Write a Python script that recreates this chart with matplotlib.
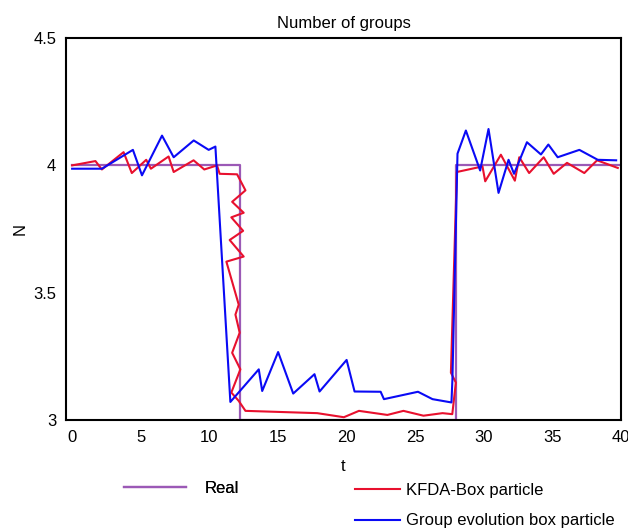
import matplotlib
matplotlib.use("Agg")
import matplotlib.pyplot as plt

plt.rcParams['font.family'] = ['Liberation Sans', 'DejaVu Sans']

# Real number of groups
t_real = [0, 12.2, 12.2, 28.0, 28.0, 40]
n_real = [4, 4, 3, 3, 4, 4]

# KFDA-Box particle
t_kfda = [0, 1.7, 2.17, 3.75, 4.35, 5.4, 5.74, 7.03, 7.4, 8.85, 9.63, 10.56, 10.75,
          12.02, 12.63, 11.66, 12.5, 11.6, 12.46, 11.48, 12.5, 11.24, 12.14, 11.9,
          12.21, 11.66, 12.26, 11.6, 12.14, 12.63, 17.86, 19.8, 20.9, 22.97, 24.14,
          25.6, 26.99, 27.7, 27.96, 27.6, 28.03, 29.9, 30.1, 31.24, 32.26, 32.58,
          33.3, 34.36, 35.09, 36.06, 37.32, 38.25, 39.76]
n_kfda = [4.0, 4.017, 3.984, 4.052, 3.97, 4.022, 3.987, 4.035, 3.974, 4.02, 3.984, 4.0, 3.967,
          3.965, 3.902, 3.857, 3.814, 3.796, 3.743, 3.707, 3.642, 3.622, 3.453, 3.414,
          3.343, 3.264, 3.199, 3.108, 3.075, 3.036, 3.027, 3.011, 3.036, 3.02, 3.036,
          3.017, 3.027, 3.023, 3.147, 3.186, 3.974, 3.996, 3.9375, 4.042, 3.94, 4.032,
          3.97, 4.032, 3.967, 4.01, 3.97, 4.02, 3.99]

# Group evolution box particle
t_gebp = [0, 2.17, 4.43, 5.09, 6.55, 7.4, 8.86, 9.95, 10.44, 11.53, 13.6, 13.85, 15.01,
          16.11, 17.66, 18.03, 20.0, 20.58, 22.48, 22.72, 25.2, 26.26, 27.64, 27.71,
          28.08, 28.69, 29.73, 30.34, 31.07, 31.8, 32.2, 33.14, 34.16, 34.7, 35.38,
          36.96, 38.3, 39.64]
n_gebp = [3.987, 3.987, 4.061, 3.961, 4.117, 4.032, 4.098, 4.061, 4.074, 3.071, 3.199, 3.114, 3.267,
          3.104, 3.18, 3.112, 3.236, 3.112, 3.111, 3.082, 3.111, 3.082, 3.069, 3.16,
          4.046, 4.137, 3.98, 4.143, 3.892, 4.022, 3.967, 4.091, 4.043, 4.082, 4.032,
          4.061, 4.022, 4.02]

fig = plt.figure(figsize=(6.28, 5.29), dpi=100)
ax = fig.add_axes([0.105, 0.206, 0.884, 0.722])

l_real, = ax.plot(t_real, n_real, color='#9b59b6', lw=1.6)
l_kfda, = ax.plot(t_kfda, n_kfda, color='#e8102e', lw=1.5)
l_gebp, = ax.plot(t_gebp, n_gebp, color='#0a0af5', lw=1.5)

ax.set_xlim(-0.45, 40)
ax.set_ylim(3, 4.5)
ax.set_xticks([0, 5, 10, 15, 20, 25, 30, 35, 40])
ax.set_yticks([3, 3.5, 4, 4.5])
ax.set_yticklabels(['3', '3.5', '4', '4.5'])
ax.tick_params(length=0, labelsize=12, pad=7)
for s in ax.spines.values():
    s.set_linewidth(1.5)

ax.set_title('Number of groups', fontsize=12, pad=7)
ax.set_xlabel('t', fontsize=12, labelpad=10)
ax.set_ylabel('N', fontsize=12, labelpad=4)

leg1 = fig.legend([l_real], ['Real'], loc='center left', bbox_to_anchor=(0.174, 0.077),
                  frameon=False, fontsize=12, handlelength=3.7, handletextpad=1.1)
leg2 = fig.legend([l_kfda, l_gebp], ['KFDA-Box particle', 'Group evolution box particle'],
                  loc='upper left', bbox_to_anchor=(0.541, 0.116), frameon=False,
                  fontsize=12, handlelength=2.7, handletextpad=0.4, labelspacing=0.95)
fig.add_artist(leg1)

fig.savefig('out.png', dpi=100)
